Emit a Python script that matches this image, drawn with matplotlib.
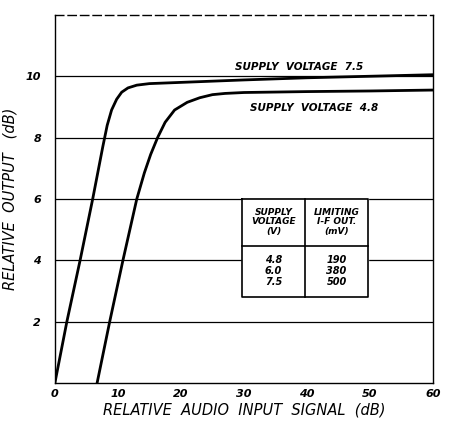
import matplotlib.pyplot as plt

# curve for supply voltage 7.5 V
x_75 = [0, 1.9, 4.0, 6.0, 7.6, 8.3, 9.0, 9.8, 10.6, 11.6, 13, 15, 20, 30, 40, 50, 60]
y_75 = [0, 2.0, 4.0, 6.0, 7.7, 8.4, 8.9, 9.25, 9.48, 9.62, 9.71, 9.76, 9.8, 9.88, 9.95, 10.0, 10.05]

# curve for supply voltage 4.8 V
x_48 = [6.7, 8.7, 10.8, 13.0, 14.2, 15.2, 16.3, 17.5, 19.0, 21, 23, 25, 27, 30, 40, 50, 60]
y_48 = [0, 2.0, 4.0, 6.0, 6.85, 7.45, 8.0, 8.5, 8.9, 9.15, 9.3, 9.4, 9.44, 9.47, 9.5, 9.52, 9.55]

x_ticks = [0, 10, 20, 30, 40, 50, 60]
y_ticks = [2, 4, 6, 8, 10]

tbl_voltage = ['4.8', '6.0', '7.5']
tbl_limit = ['190', '380', '500']

fnt = dict(style='italic', fontweight='bold', color='black')

fig = plt.figure(figsize=(4.5, 4.26), dpi=100)
ax = fig.add_axes([0.122, 0.101, 0.84, 0.864])
ax.set_xlim(0, 60)
ax.set_ylim(0, 12)

for yv in y_ticks:
    ax.axhline(yv, color='black', lw=0.9)

ax.plot(x_75, y_75, color='black', lw=2.0)
ax.plot(x_48, y_48, color='black', lw=2.0)

ax.spines['top'].set_linestyle((0, (6, 3)))
for s in ax.spines.values():
    s.set_linewidth(1.0)

ax.set_xticks(x_ticks)
ax.set_xticklabels([str(t) for t in x_ticks], **fnt, fontsize=8)
ax.set_yticks(y_ticks)
ax.set_yticklabels([str(t) for t in y_ticks], **fnt, fontsize=8)
ax.tick_params(axis='x', length=0, pad=4)
ax.tick_params(axis='y', length=0, pad=10)

ax.set_xlabel('RELATIVE  AUDIO  INPUT  SIGNAL  (dB)', fontsize=10.5, style='italic', labelpad=3)
ax.set_ylabel('RELATIVE  OUTPUT   (dB)', fontsize=10.5, style='italic', labelpad=6)

ax.text(38.7, 10.3, 'SUPPLY  VOLTAGE  7.5', ha='center', va='center', fontsize=7.5, **fnt)
ax.text(41.2, 8.95, 'SUPPLY  VOLTAGE  4.8', ha='center', va='center', fontsize=7.5, **fnt)

# table box
tx0, tx1, tx2 = 29.7, 39.7, 49.7
ty_top, ty_mid, ty_bot = 6.0, 4.45, 2.8
ax.fill_between([tx0, tx2], ty_bot, ty_top, color='white', zorder=3)
ax.plot([tx0, tx2, tx2, tx0, tx0], [ty_top, ty_top, ty_bot, ty_bot, ty_top], color='black', lw=1.2, zorder=4)
ax.plot([tx1, tx1], [ty_bot, ty_top], color='black', lw=1.2, zorder=4)
ax.plot([tx0, tx2], [ty_mid, ty_mid], color='black', lw=1.2, zorder=4)

ax.text((tx0 + tx1) / 2, 5.25, 'SUPPLY\nVOLTAGE\n(V)', ha='center', va='center', fontsize=6.5, linespacing=1.1, zorder=5, **fnt)
ax.text((tx1 + tx2) / 2, 5.25, 'LIMITING\nI-F OUT.\n(mV)', ha='center', va='center', fontsize=6.5, linespacing=1.1, zorder=5, **fnt)
ax.text((tx0 + tx1) / 2, 3.65, '\n'.join(tbl_voltage), ha='center', va='center', fontsize=7, linespacing=1.1, zorder=5, **fnt)
ax.text((tx1 + tx2) / 2, 3.65, '\n'.join(tbl_limit), ha='center', va='center', fontsize=7, linespacing=1.1, zorder=5, **fnt)

fig.savefig('out.png', dpi=100)
